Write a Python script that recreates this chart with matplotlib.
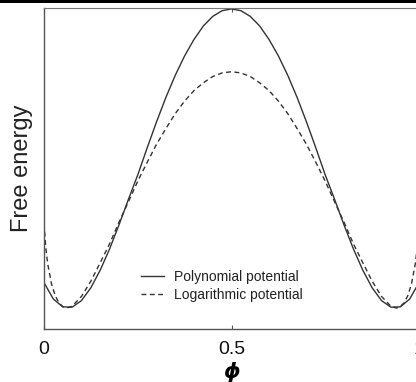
import matplotlib
matplotlib.use("Agg")
import matplotlib.pyplot as plt
from matplotlib.patches import Rectangle

# Data (free energy in arbitrary units)
phi_poly = [0.0, 0.025, 0.05, 0.075, 0.1, 0.125, 0.15, 0.175, 0.2, 0.225, 0.25,
            0.275, 0.3, 0.325, 0.35, 0.375, 0.4, 0.425, 0.45, 0.475, 0.5,
            0.525, 0.55, 0.575, 0.6, 0.625, 0.65, 0.675, 0.7, 0.725, 0.75,
            0.775, 0.8, 0.825, 0.85, 0.875, 0.9, 0.925, 0.95, 0.975, 1.0]
f_poly = [0.085, 0.03, 0.004, 0.003, 0.025, 0.068, 0.127, 0.198, 0.278, 0.363, 0.445,
          0.535, 0.622, 0.704, 0.778, 0.843, 0.898, 0.943, 0.975, 0.994, 1.0,
          0.994, 0.975, 0.943, 0.898, 0.843, 0.778, 0.704, 0.622, 0.535, 0.445,
          0.363, 0.278, 0.198, 0.127, 0.068, 0.025, 0.003, 0.004, 0.03, 0.085]

phi_log = [0.0, 0.005, 0.01, 0.02, 0.03, 0.04, 0.05, 0.06, 0.075, 0.1, 0.125,
           0.15, 0.175, 0.2, 0.225, 0.25, 0.275, 0.3, 0.325, 0.35, 0.375, 0.4,
           0.425, 0.45, 0.475, 0.5, 0.525, 0.55, 0.575, 0.6, 0.625, 0.65, 0.675,
           0.7, 0.725, 0.75, 0.775, 0.8, 0.825, 0.85, 0.875, 0.9, 0.925, 0.94,
           0.95, 0.96, 0.97, 0.98, 0.99, 0.995, 1.0]
f_log = [0.283, 0.199, 0.147, 0.081, 0.041, 0.017, 0.005, 0.0, 0.006, 0.039, 0.09,
         0.152, 0.215, 0.287, 0.355, 0.424, 0.487, 0.547, 0.60, 0.65, 0.692, 0.727,
         0.753, 0.774, 0.786, 0.79, 0.786, 0.774, 0.753, 0.727, 0.692, 0.65, 0.60,
         0.547, 0.487, 0.424, 0.355, 0.287, 0.215, 0.152, 0.09, 0.039, 0.006, 0.0,
         0.005, 0.017, 0.041, 0.081, 0.147, 0.199, 0.283]

xticks = [0, 0.5, 1]
xticklabels = ["0", "0.5", "1"]

plt.rcParams['font.family'] = ['Liberation Sans', 'DejaVu Sans']

W, H = 416, 382
fig = plt.figure(figsize=(W / 100, H / 100), dpi=100)
ax = fig.add_axes([44 / W, (H - 329) / H, (419 - 44) / W, (329 - 8) / H])

ax.plot(phi_poly, f_poly, color='#333333', lw=1.0, ls='-', label='Polynomial potential')
ax.plot(phi_log, f_log, color='#333333', lw=1.0, ls=(0, (3.5, 2.5)), label='Logarithmic potential')

ax.set_xlim(0, 1)
ax.set_ylim(-0.07, 1.003)
ax.set_xticks(xticks)
ax.set_xticklabels(xticklabels)
ax.set_yticks([])
ax.tick_params(axis='x', direction='in', length=3, width=0.8, color='#555555',
               labelsize=14, pad=9, top=True, labelcolor='#111111')

for s in ['left', 'bottom']:
    ax.spines[s].set_color('#555555')
    ax.spines[s].set_linewidth(1.0)
ax.spines['top'].set_color('#777777')
ax.spines['top'].set_linewidth(0.8)
ax.spines['right'].set_visible(False)

ax.set_ylabel('Free energy', fontsize=17, color='#222222', labelpad=8)
ax.set_xlabel('ϕ', fontsize=15, fontstyle='italic', fontweight='bold',
              family=['DejaVu Sans'], labelpad=2)

leg = ax.legend(loc='upper left', bbox_to_anchor=(0.248, 0.198), frameon=False,
                fontsize=10, handlelength=1.65, handletextpad=0.72, labelspacing=0.32,
                borderaxespad=0, borderpad=0.3)
for t in leg.get_texts():
    t.set_color('#222222')

# thick black rule at the very top of the image
fig.add_artist(Rectangle((0, 1 - 3 / H), 1, 3 / H, transform=fig.transFigure,
                         facecolor='black', edgecolor='none'))

fig.savefig('out.png', dpi=100)
